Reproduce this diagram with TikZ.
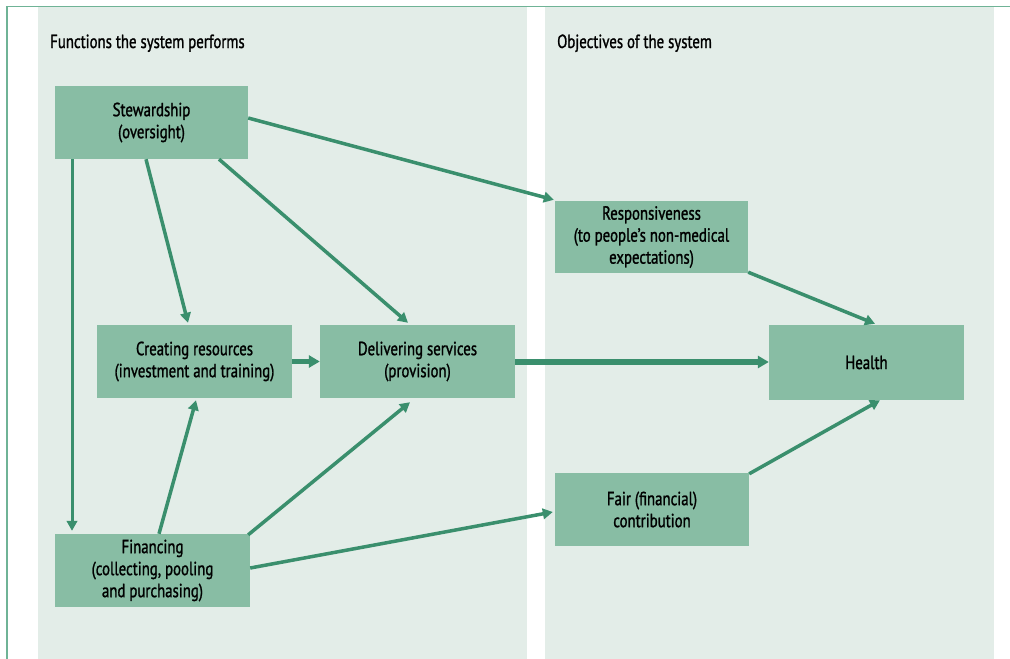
\documentclass[tikz,border=0pt]{standalone}
\usepackage{fontspec}
\setmainfont{PT Sans}[FakeStretch=0.78, FakeBold=1.2]
\usetikzlibrary{arrows.meta}
\definecolor{panelc}{HTML}{E3EDE8}
\definecolor{boxc}{HTML}{88BDA4}
\definecolor{arrc}{HTML}{3A8F6D}
\definecolor{framec}{HTML}{6FB396}
\begin{document}
\begin{tikzpicture}[x=1pt,y=-1pt,
  box/.style={fill=boxc, inner sep=0pt, align=center, minimum width=194pt, minimum height=73pt,
    font=\fontsize{19}{22}\selectfont},
  ttl/.style={anchor=base west, inner sep=0pt, font=\fontsize{19}{22}\selectfont},
  arr/.style={draw=arrc, line width=3.5pt, -{Triangle[length=10pt,width=10.5pt]}},
  thick arr/.style={arr, line width=5.5pt, -{Triangle[length=11pt,width=12pt]}}]
\useasboundingbox (0,0) rectangle (1010,659);
\fill[white] (0,0) rectangle (1010,659);
\fill[panelc] (38,7) rectangle (527,659);
\fill[panelc] (545,7) rectangle (994,659);
\draw[framec, line width=1.5pt] (7,659) -- (7,6.5) -- (1010,6.5);

\node[ttl] (t1) at (50,48) {Functions the system performs};
\node[ttl] (t2) at (557,48) {Objectives of the system};

\node[box, minimum width=193pt] (stew) at (151.5,122.5) {Stewardship\\(oversight)};
\node[box, minimum width=195pt] (crea) at (194.5,361.5) {Creating resources\\(investment and training)};
\node[box, minimum width=195pt] (deli) at (417.5,361.5) {Delivering services\\(provision)};
\node[box, minimum width=195pt, minimum height=75pt] (heal) at (866.5,362.5) {Health};
\node[box, minimum width=193pt, minimum height=72pt] (resp) at (651.5,237) {Responsiveness\\(to people's non-medical\\expectations)};
\node[box] (fair) at (652,509.5) {Fair (financial)\\contribution};
\node[box, minimum width=195pt] (fina) at (152.5,570.5) {Financing\\(collecting, pooling\\and purchasing)};

\draw[arr] ([yshift=4.5pt]stew.east) -- ([xshift=-1pt,yshift=1pt]resp.north west);
\draw[arr] ([xshift=-5.5pt]stew.south) -- ([xshift=-6.5pt,yshift=2pt]crea.north);
\draw[arr] ([xshift=67.5pt]stew.south) -- ([xshift=-9.5pt,yshift=2pt]deli.north);
\draw[arr, line width=3pt] ([xshift=-79.5pt]stew.south) -- ([xshift=-80.5pt,yshift=3pt]fina.north);
\draw[thick arr] (crea.east) -- (deli.west);
\draw[thick arr] ([yshift=-0.5pt]deli.east) -- ([yshift=-0.5pt]deli.east -| heal.west);
\draw[arr] ([xshift=6.5pt]fina.north) -- ([xshift=1.5pt,yshift=-2pt]crea.south);
\draw[arr] ([xshift=-2pt,yshift=-1pt]fina.north east) -- ([xshift=-7.5pt,yshift=-4pt]deli.south);
\draw[arr] ([yshift=2.5pt]fina.east) -- ([xshift=-2pt,yshift=-2.5pt]fair.west);
\draw[arr] ([yshift=1pt]resp.south east) -- ([xshift=8.5pt,yshift=1pt]heal.north);
\draw[arr] ([yshift=-1pt]fair.north east) -- ([xshift=13.5pt]heal.south);
\end{tikzpicture}
\end{document}
